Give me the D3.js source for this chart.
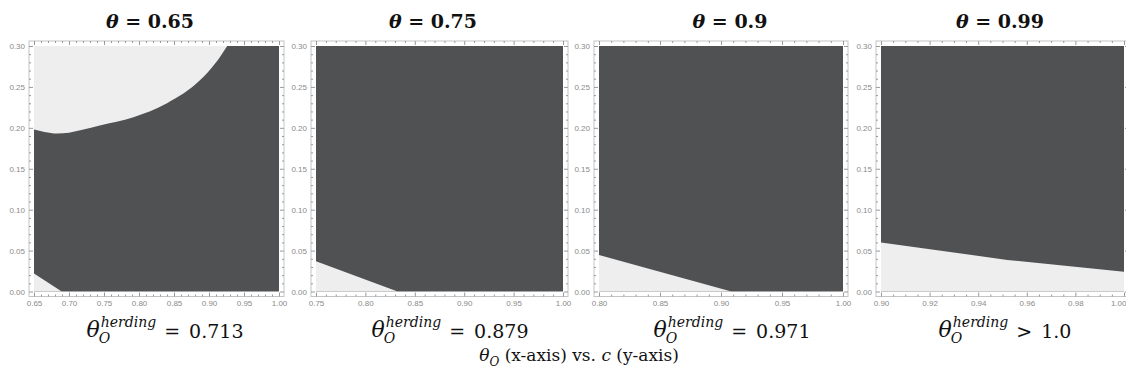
<!DOCTYPE html>
<html><head><meta charset="utf-8">
<script src="https://cdn.jsdelivr.net/npm/d3@7"></script>
<style>body{margin:0;background:#fff;overflow:hidden}</style>
</head><body><svg id="c" width="1126" height="378"></svg>
<script>
// ---------- data ----------
const thetas = ["0.65", "0.75", "0.9", "0.99"];
const xDomains = [[0.65, 1.0], [0.75, 1.0], [0.80, 1.0], [0.90, 1.0]];
const yDomain = [0, 0.30];
const xMajorTicks = [
  [0.65, 0.70, 0.75, 0.80, 0.85, 0.90, 0.95, 1.00],
  [0.75, 0.80, 0.85, 0.90, 0.95, 1.00],
  [0.80, 0.85, 0.90, 0.95, 1.00],
  [0.90, 0.92, 0.94, 0.96, 0.98, 1.00]
];
const xMinorStep = [0.01, 0.01, 0.01, 0.005];
const yMajorTicks = [0.00, 0.05, 0.10, 0.15, 0.20, 0.25, 0.30];
const yMinorStep = 0.01;
const herdingRel = ["=", "=", "=", ">"];
const herdingVal = ["0.713", "0.879", "0.971", "1.0"];
// light region above this boundary (panel 1 only) [theta_O, c]
const upperLight1 = [[0.65, 0.198], [0.665, 0.195], [0.683, 0.193], [0.70, 0.194], [0.716, 0.197],
  [0.744, 0.203], [0.792, 0.213], [0.840, 0.230], [0.887, 0.258], [0.911, 0.281], [0.926, 0.300]];
// light region below these boundaries, per panel
const lowerLight = [
  [[0.65, 0.022], [0.6896, 0.0]],
  [[0.75, 0.037], [0.8326, 0.0]],
  [[0.80, 0.0447], [0.9085, 0.0]],
  [[0.90, 0.060], [0.952, 0.0386], [1.0, 0.024]]
];

// ---------- layout ----------
const layout = [
  {x0: 34, x1: 279, tc: 150, lc: 165},
  {x0: 316, x1: 563, tc: 433, lc: 450},
  {x0: 599, x1: 843, tc: 730, lc: 732},
  {x0: 881, x1: 1124, tc: 1000, lc: 1005}
];
const yTop = 46, yBot = 291.5, pad = 5;
const DARK = "#505153", LIGHT = "#eeeeee", FRAME = "#c4c4c4", TICK = "#9a9a9a", TLAB = "#8a8a8a";
const SERIF = "'DejaVu Serif', serif";

const svg = d3.select("#c");
const y = d3.scaleLinear().domain(yDomain).range([yBot, yTop]);

function minorList(dom, step, majors) {
  const out = [];
  const n = Math.round((dom[1] - dom[0]) / step);
  for (let k = 0; k <= n; k++) {
    const v = +(dom[0] + k * step).toFixed(4);
    if (!majors.some(m => Math.abs(m - v) < 1e-6)) out.push(v);
  }
  return out;
}

layout.forEach((L, i) => {
  const x = d3.scaleLinear().domain(xDomains[i]).range([L.x0, L.x1]);
  const g = svg.append("g");
  const line = d3.line().x(d => x(d[0])).y(d => y(d[1]));
  const smooth = d3.line().x(d => x(d[0])).y(d => y(d[1])).curve(d3.curveMonotoneX);

  // dark plot area
  g.append("rect").attr("x", x(xDomains[i][0])).attr("y", y(yDomain[1]))
    .attr("width", x(xDomains[i][1]) - x(xDomains[i][0]))
    .attr("height", y(yDomain[0]) - y(yDomain[1])).attr("fill", DARK);

  if (i === 0) {
    const d = smooth(upperLight1) + `L${x(xDomains[0][0])},${y(yDomain[1])}Z`;
    g.append("path").attr("d", d).attr("fill", LIGHT);
  }
  const lw = lowerLight[i];
  const lp = lw.concat([[lw[lw.length - 1][0], 0], [lw[0][0], 0]]);
  g.append("path").attr("d", line(lp) + "Z").attr("fill", LIGHT);

  // frame
  const fx0 = L.x0 - pad, fx1 = L.x1 + pad, fy0 = yTop - pad, fy1 = yBot + pad;
  g.append("rect").attr("x", fx0).attr("y", fy0).attr("width", fx1 - fx0).attr("height", fy1 - fy0)
    .attr("fill", "none").attr("stroke", FRAME).attr("stroke-width", 1);

  const xMin = minorList(xDomains[i], xMinorStep[i], xMajorTicks[i]);
  const yMin = minorList(yDomain, yMinorStep, yMajorTicks);
  const fmt = d3.format(".2f");

  function addAxis(axisFn, scale, tr, majors, minors, labels) {
    const a = g.append("g").attr("transform", tr)
      .call(axisFn(scale).tickValues(majors).tickSize(-4).tickPadding(4)
        .tickFormat(labels ? fmt : ""));
    a.select(".domain").remove();
    a.selectAll("line").attr("stroke", TICK);
    a.selectAll("text").attr("fill", TLAB).style("font-family", "'Liberation Sans', Arial, sans-serif")
      .style("font-size", "8px");
    const b = g.append("g").attr("transform", tr)
      .call(axisFn(scale).tickValues(minors).tickSize(-2).tickFormat(""));
    b.select(".domain").remove();
    b.selectAll("line").attr("stroke", TICK);
    return a;
  }
  const xb = addAxis(d3.axisBottom, x, `translate(0,${fy1})`, xMajorTicks[i], xMin, true);
  if (i === 3) {
    // keep the last label inside the page
    xb.selectAll(".tick text").filter(d => d === 1.0).attr("text-anchor", "end").attr("dx", 2);
  }
  addAxis(d3.axisTop, x, `translate(0,${fy0})`, xMajorTicks[i], xMin, false);
  addAxis(d3.axisLeft, y, `translate(${fx0},0)`, yMajorTicks, yMin, true);
  addAxis(d3.axisRight, y, `translate(${fx1},0)`, yMajorTicks, yMin, false);

  // title
  const t = svg.append("text").attr("x", L.tc).attr("y", 28).attr("text-anchor", "middle")
    .style("font-family", SERIF).style("font-weight", "bold").style("font-size", "19px").attr("fill", "#111");
  t.append("tspan").style("font-style", "italic").text("θ");
  t.append("tspan").text(" = " + thetas[i]);

  // herding label
  const hg = svg.append("g");
  const th = hg.append("text").attr("x", 0).attr("y", 337).style("font-family", SERIF)
    .style("font-style", "italic").style("font-size", "22px").attr("fill", "#111").text("θ");
  const wth = th.node().getComputedTextLength();
  const sup = hg.append("text").attr("x", wth + 1).attr("y", 327).style("font-family", SERIF)
    .style("font-style", "italic").style("font-size", "14px").attr("fill", "#111").text("herding");
  hg.append("text").attr("x", wth - 1).attr("y", 343).style("font-family", SERIF)
    .style("font-style", "italic").style("font-size", "14px").attr("fill", "#111").text("O");
  const wsup = sup.node().getComputedTextLength();
  let cx = wth + wsup + 9;
  const rel = hg.append("text").attr("x", cx).attr("y", 338).style("font-family", SERIF)
    .style("font-size", "19px").attr("fill", "#111").text(herdingRel[i]);
  cx += rel.node().getComputedTextLength() + 9;
  const val = hg.append("text").attr("x", cx).attr("y", 338).style("font-family", SERIF)
    .style("font-size", "19px").attr("fill", "#111").text(herdingVal[i]);
  const total = cx + val.node().getComputedTextLength();
  hg.attr("transform", `translate(${L.lc - total / 2},0)`);
});

// overall axis caption
const cap = svg.append("text").attr("x", 579).attr("y", 361).attr("text-anchor", "middle")
  .style("font-family", SERIF).style("font-size", "17px").attr("fill", "#111");
cap.append("tspan").style("font-style", "italic").text("θ");
cap.append("tspan").style("font-style", "italic").style("font-size", "12px").attr("dy", 5).text("O");
cap.append("tspan").attr("dy", -5).text(" (x-axis) vs. ");
cap.append("tspan").style("font-style", "italic").text("c");
cap.append("tspan").text(" (y-axis)");
</script></body></html>
